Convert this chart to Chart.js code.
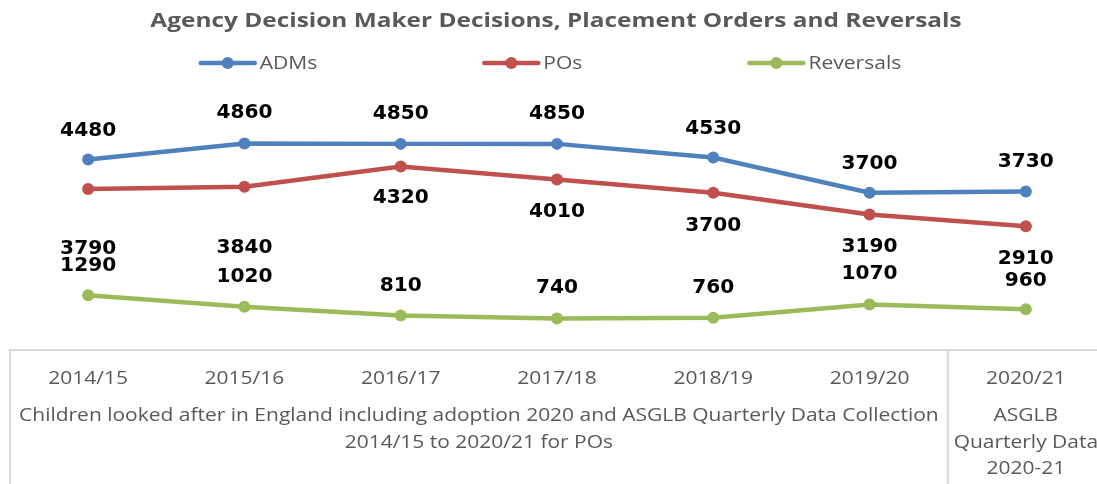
<!DOCTYPE html>
<html>
<head>
<meta charset="utf-8">
<script src="https://cdn.jsdelivr.net/npm/chart.js"></script>
<style>
  html, body { margin: 0; padding: 0; background: #fff; overflow: hidden; }
</style>
</head>
<body>
<canvas id="decisionsChart" width="1110" height="484"></canvas>
<script>
  // values
  const chartTitle = 'Agency Decision Maker Decisions, Placement Orders and Reversals';
  const years = ['2014/15', '2015/16', '2016/17', '2017/18', '2018/19', '2019/20', '2020/21'];
  const adms = [4480, 4860, 4850, 4850, 4530, 3700, 3730];
  const pos = [3790, 3840, 4320, 4010, 3700, 3190, 2910];
  const reversals = [1290, 1020, 810, 740, 760, 1070, 960];
  const sourceGroups = [
    { lines: ['Children looked after in England including adoption 2020 and ASGLB Quarterly Data Collection', '2014/15 to 2020/21 for POs'], first: 0, last: 5 },
    { lines: ['ASGLB', 'Quarterly Data', '2020-21'], first: 6, last: 6 }
  ];

  const grey = '#595959';
  const axisGrey = '#d9d9d9';
  const textFont = '"Open Sans", sans-serif';
  const stretch = 1.165; // the original picture is a bit wider than tall

  function lineSet(label, data, color, labelDy) {
    return {
      label: label,
      data: data,
      borderColor: color,
      backgroundColor: color,
      borderWidth: 4.5,
      pointRadius: 6,
      pointHoverRadius: 6,
      pointBorderWidth: 0,
      pointBackgroundColor: color,
      tension: 0,
      labelDy: labelDy
    };
  }

  function wideText(ctx, text, x, y, sx, align) {
    ctx.save();
    ctx.translate(x, y);
    ctx.scale(sx, 1);
    ctx.textAlign = align || 'center';
    ctx.fillText(text, 0, 0);
    ctx.restore();
  }

  // title, legend, value labels and the two level axis
  const decorations = {
    id: 'decorations',
    afterDraw(chart) {
      const ctx = chart.ctx;
      const x = chart.scales.x;
      const area = chart.chartArea;
      ctx.save();
      ctx.textBaseline = 'middle';

      // title
      ctx.fillStyle = grey;
      ctx.font = 'bold 20px ' + textFont;
      wideText(ctx, chartTitle, 556, 21, 1.22);

      // legend
      ctx.font = '18px ' + textFont;
      const markW = 58, gapText = 3, gapItem = 165;
      const items = chart.data.datasets.map(ds => ({ ds: ds, w: markW + gapText + ctx.measureText(ds.label).width * 1.17 }));
      const total = items.reduce((s, it) => s + it.w, 0) + gapItem * (items.length - 1);
      let lx = 550 - total / 2;
      const ly = 63;
      items.forEach(it => {
        ctx.strokeStyle = it.ds.borderColor;
        ctx.lineWidth = 4.5;
        ctx.lineCap = 'round';
        ctx.beginPath();
        ctx.moveTo(lx + 2, ly);
        ctx.lineTo(lx + markW - 2, ly);
        ctx.stroke();
        ctx.fillStyle = it.ds.borderColor;
        ctx.beginPath();
        ctx.arc(lx + markW / 2, ly, 6, 0, Math.PI * 2);
        ctx.fill();
        ctx.fillStyle = grey;
        wideText(ctx, it.ds.label, lx + markW + gapText, ly + 1, 1.17, 'left');
        lx += it.w + gapItem;
      });

      // value labels
      ctx.font = 'bold 19px "DejaVu Sans", sans-serif';
      ctx.fillStyle = '#000';
      chart.data.datasets.forEach((ds, i) => {
        chart.getDatasetMeta(i).data.forEach((pt, j) => {
          wideText(ctx, String(ds.data[j]), pt.x, pt.y + ds.labelDy[j], 1.06);
        });
      });

      // axis frame and group labels
      const bandW = x.getPixelForValue(1) - x.getPixelForValue(0);
      ctx.strokeStyle = axisGrey;
      ctx.lineWidth = 2;
      ctx.beginPath();
      ctx.moveTo(area.left, area.bottom);
      ctx.lineTo(area.left, chart.height);
      sourceGroups.forEach(g => {
        if (g.first > 0) {
          const sx = x.getPixelForValue(g.first) - bandW / 2;
          ctx.moveTo(sx, area.bottom);
          ctx.lineTo(sx, chart.height);
        }
      });
      ctx.stroke();

      ctx.font = '18px ' + textFont;
      ctx.fillStyle = grey;
      years.forEach((yr, i) => wideText(ctx, yr, x.getPixelForValue(i), 379, stretch));
      sourceGroups.forEach(g => {
        const cx = (x.getPixelForValue(g.first) + x.getPixelForValue(g.last)) / 2;
        g.lines.forEach((t, k) => wideText(ctx, t, cx, 416 + k * 26.5, stretch));
      });
      ctx.restore();
    }
  };

  const ctx = document.getElementById('decisionsChart').getContext('2d');
  new Chart(ctx, {
    type: 'line',
    data: {
      labels: years,
      datasets: [
        lineSet('ADMs', adms, '#4F81BD', [-29, -30, -30, -30, -28, -29, -29]),
        lineSet('POs', pos, '#C0504D', [60, 61, 32, 32, 33, 33, 33]),
        lineSet('Reversals', reversals, '#9BBB59', [-29, -30, -30, -30, -30, -30, -28])
      ]
    },
    options: {
      responsive: false,
      animation: false,
      devicePixelRatio: 1,
      layout: { padding: { top: 95, left: 10, right: 2, bottom: 0 } },
      plugins: {
        legend: { display: false },
        title: { display: false },
        tooltip: { enabled: false }
      },
      scales: {
        x: {
          offset: true,
          grid: { display: false, drawTicks: false },
          border: { display: true, color: axisGrey, width: 2 },
          ticks: { display: false },
          afterFit: s => { s.height = 134; }
        },
        y: {
          display: false,
          min: 0,
          max: 6000
        }
      }
    },
    plugins: [decorations]
  });
</script>
</body>
</html>
